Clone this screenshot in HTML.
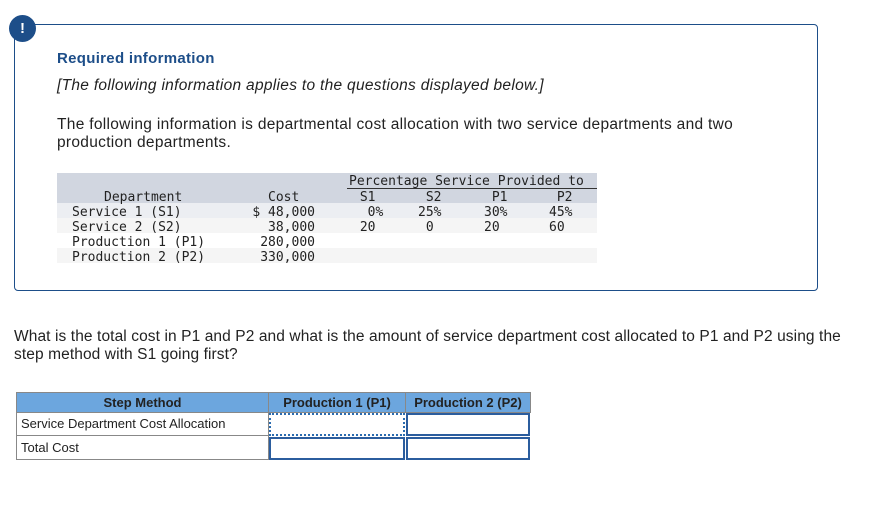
<!DOCTYPE html>
<html><head><meta charset="utf-8"><style>
body{margin:0;width:877px;height:507px;background:#fff;position:relative;overflow:hidden;font-family:"Liberation Sans",sans-serif;color:#222}
.a{position:absolute}
.mono{font-family:"DejaVu Sans Mono","Liberation Mono",monospace;font-size:13px;color:#222;line-height:15px;white-space:pre}
.cell{position:absolute;box-sizing:border-box}
</style></head><body>
<div class="a" style="left:14px;top:24px;width:804px;height:267px;border:1px solid #1d4e89;border-radius:4px;box-sizing:border-box"></div>
<div class="a" style="left:9px;top:15px;width:27px;height:27px;border-radius:50%;background:#1d4e89;color:#fff;font-weight:bold;font-size:15px;text-align:center;line-height:27px">!</div>
<div class="a" style="left:57px;top:50px;font-size:15px;letter-spacing:0.3px;font-weight:bold;color:#1d4e89">Required information</div>
<div class="a" style="left:57px;top:77px;font-size:15.5px;letter-spacing:0.3px;font-style:italic">[The following information applies to the questions displayed below.]</div>
<div class="a" style="left:57px;top:116px;font-size:15.5px;letter-spacing:0.3px;line-height:18px;width:690px">The following information is departmental cost allocation with two service departments and two production departments.</div>

<div class="a" style="left:57px;top:173px;width:540px;height:91px">
 <div class="a" style="left:0;top:0;width:540px;height:30px;background:#d1d6e0"></div>
 <div class="a" style="left:0;top:30px;width:540px;height:15px;background:#eceef2"></div>
 <div class="a" style="left:0;top:45px;width:540px;height:15px;background:#f5f5f5"></div>
 <div class="a" style="left:0;top:60px;width:540px;height:15px;background:#fff"></div>
 <div class="a" style="left:0;top:75px;width:540px;height:15px;background:#f5f5f5"></div>
 <div class="a" style="left:290px;top:15px;width:250px;border-top:1px solid #333"></div>
 <div class="a mono" style="left:292px;top:1px">Percentage Service Provided to</div>
 <div class="a mono" style="left:47px;top:17px">Department</div>
 <div class="a mono" style="left:15px;top:32px">Service 1 (S1)
Service 2 (S2)
Production 1 (P1)
Production 2 (P2)</div>
 <div class="a mono" style="left:211px;top:17px">Cost</div>
 <div class="a mono" style="left:158px;top:32px;width:100px;text-align:right">$ 48,000
38,000
280,000
330,000</div>
 <div class="a mono" style="left:295px;top:17px"> S1
  0%
 20</div>
 <div class="a mono" style="left:361px;top:17px"> S2
25%
 0</div>
 <div class="a mono" style="left:427px;top:17px"> P1
30%
20</div>
 <div class="a mono" style="left:492px;top:17px"> P2
45%
60</div>
</div>

<div class="a" style="left:14px;top:328px;font-size:15.5px;letter-spacing:0.1px;line-height:18px;width:850px">What is the total cost in P1 and P2 and what is the amount of service department cost allocated to P1 and P2 using the step method with S1 going first?</div>

<div class="a" style="left:16px;top:392px;width:515px;height:68px;font-size:13px">
 <div class="cell" style="left:0;top:0;width:253px;height:21px;background:#6ca6de;border:1px solid #888;font-weight:bold;text-align:center;line-height:19px">Step Method</div>
 <div class="cell" style="left:252px;top:0;width:138px;height:21px;background:#6ca6de;border:1px solid #888;font-weight:bold;text-align:center;line-height:19px">Production 1 (P1)</div>
 <div class="cell" style="left:389px;top:0;width:126px;height:21px;background:#6ca6de;border:1px solid #888;font-weight:bold;text-align:center;line-height:19px">Production 2 (P2)</div>
 <div class="cell" style="left:0;top:20px;width:253px;height:24px;border:1px solid #888;padding-left:4px;line-height:22px">Service Department Cost Allocation</div>
 <div class="cell" style="left:0;top:43px;width:253px;height:25px;border:1px solid #888;padding-left:4px;line-height:23px">Total Cost</div>
 <div class="cell" style="left:253px;top:21px;width:136px;height:23px;border:2px dotted #2b6cb0"></div>
 <div class="cell" style="left:390px;top:21px;width:124px;height:23px;border:2px solid #2b5d9e"></div>
 <div class="cell" style="left:253px;top:45px;width:136px;height:23px;border:2px solid #2b5d9e"></div>
 <div class="cell" style="left:390px;top:45px;width:124px;height:23px;border:2px solid #2b5d9e"></div>
</div>
</body></html>
